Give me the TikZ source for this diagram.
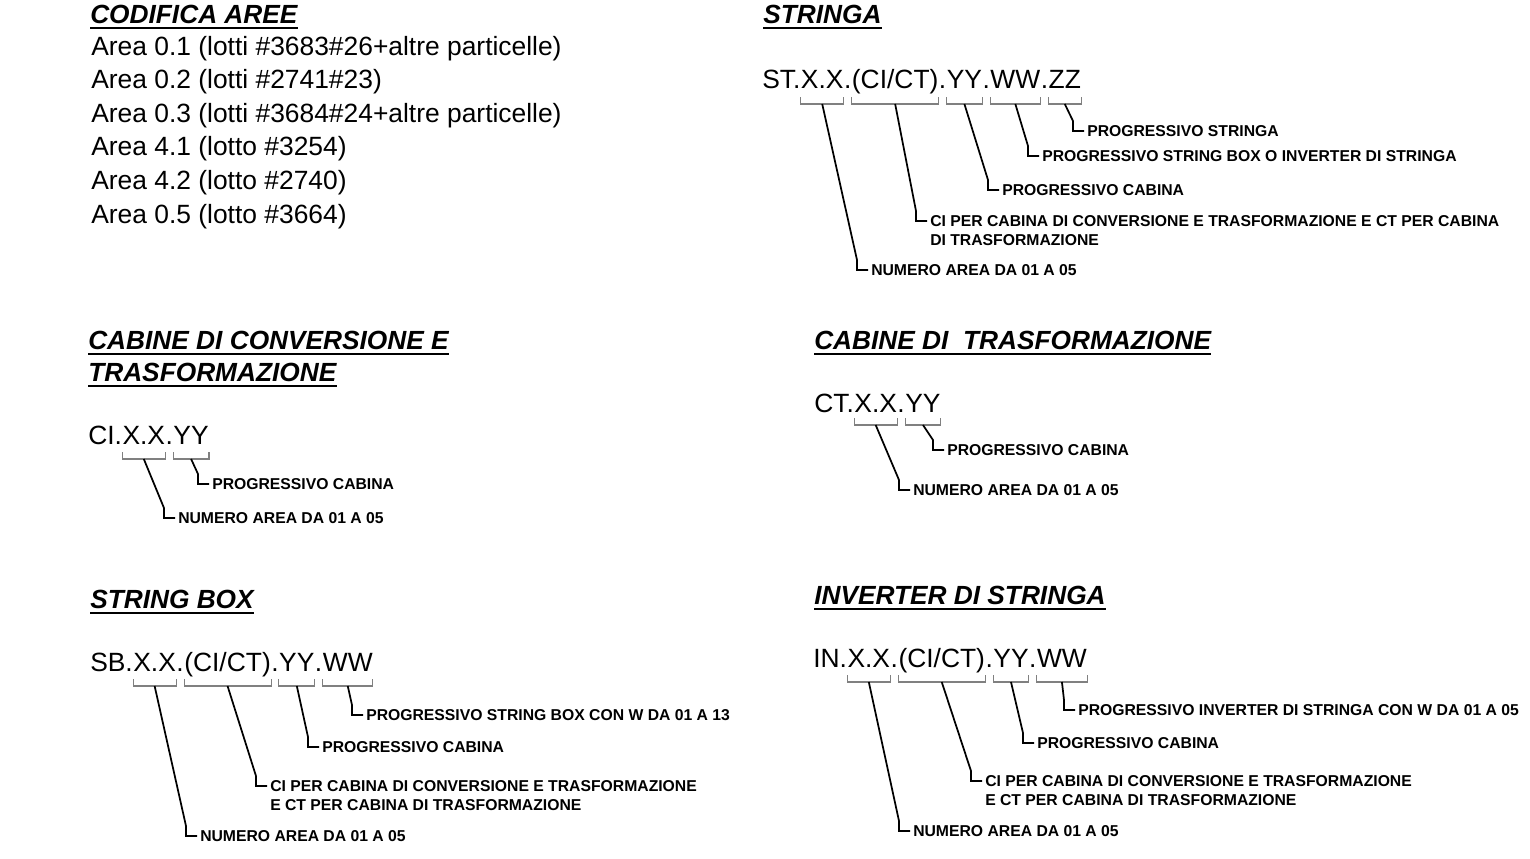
\documentclass[tikz,border=0pt]{standalone}
\usepackage{fontspec}
\setmainfont{Liberation Sans}
\usetikzlibrary{calc}
% bracket under a code segment: #1 node, #2 offset below baseline (px)
\newcommand\codebrk[2]{%
  \draw[brk] ($(#1.base west)+(0,#2-7)$) -- ($(#1.base west)+(0,#2)$) -- ($(#1.base east)+(0,#2)$) -- ($(#1.base east)+(0,#2-7)$);
  \coordinate (#1b) at ($(#1.base)+(0,#2)$);}
% leader from a coordinate to a label node
\newcommand\ldr[2]{%
  \draw[lead] (#1) -- ($(#2.west)+(-14,-10)$) -- ($(#2.west)+(-14,0)$) -- ($(#2.west)+(-3,0)$);}
% heading underline
\newcommand\hul[1]{%
  \draw[uline] ($(#1.base west)+(0,4.8)$) -- ($(#1.base east)+(0,4.8)$);}
\begin{document}
\begin{tikzpicture}[x=0.75pt,y=-0.75pt,
  code/.style={font=\fontsize{19.8}{24}\selectfont, inner sep=0pt, anchor=base west},
  head/.style={font=\fontsize{19.7}{24}\selectfont\bfseries\itshape, inner sep=0pt, anchor=base west},
  lbl/.style={font=\fontsize{11.8}{14}\selectfont\bfseries, inner sep=0pt, anchor=west},
  brk/.style={draw=black!50, line width=0.8pt},
  lead/.style={draw=black, line width=1.3pt, line join=miter},
  uline/.style={draw=black, line width=1.5pt}]
\fill[white] (0,0) rectangle (1530,858);
\useasboundingbox (0,0) rectangle (1530,858);

% ---------- CODIFICA AREE ----------
\node[head] (hA) at (90,23) {CODIFICA AREE};
\hul{hA}
\node[code] (a1) at (91,55.0) {Area 0.1 (lotti \#3683\#26+altre particelle)};
\node[code] (a2) at (91,88.6) {Area 0.2 (lotti \#2741\#23)};
\node[code] (a3) at (91,122.2) {Area 0.3 (lotti \#3684\#24+altre particelle)};
\node[code] (a4) at (91,155.8) {Area 4.1 (lotto \#3254)};
\node[code] (a5) at (91,189.4) {Area 4.2 (lotto \#2740)};
\node[code] (a6) at (91,223.0) {Area 0.5 (lotto \#3664)};

% ---------- STRINGA ----------
\node[head] (hST) at (763,23) {STRINGA};
\hul{hST}
\node[code] (st0) at (762,88) {ST.};
\node[code] (st1) at (st0.base east) {X.X};
\node[code] (std1) at (st1.base east) {.};
\node[code] (st2) at (std1.base east) {(CI/CT)};
\node[code] (std2) at (st2.base east) {.};
\node[code] (st3) at (std2.base east) {YY};
\node[code] (std3) at (st3.base east) {.};
\node[code] (st4) at (std3.base east) {WW};
\node[code] (std4) at (st4.base east) {.};
\node[code] (st5) at (std4.base east) {ZZ};
\codebrk{st1}{16}\codebrk{st2}{16}\codebrk{st3}{16}\codebrk{st4}{16}\codebrk{st5}{16}
\node[lbl] (stL5) at (1087,131) {PROGRESSIVO STRINGA};
\node[lbl] (stL4) at (1042,156) {PROGRESSIVO STRING BOX O INVERTER DI STRINGA};
\node[lbl] (stL3) at (1002,190) {PROGRESSIVO CABINA};
\node[lbl] (stL2) at (930,221) {CI PER CABINA DI CONVERSIONE E TRASFORMAZIONE E CT PER CABINA};
\node[lbl] (stL2b) at (930,240) {DI TRASFORMAZIONE};
\node[lbl] (stL1) at (871,270) {NUMERO AREA DA 01 A 05};
\ldr{st5b}{stL5}\ldr{st4b}{stL4}\ldr{st3b}{stL3}\ldr{st2b}{stL2}\ldr{st1b}{stL1}

% ---------- CABINE DI CONVERSIONE E TRASFORMAZIONE ----------
\node[head] (hCI) at (88,349) {CABINE DI CONVERSIONE E};
\node[head] (hCIb) at (88,381.5) {TRASFORMAZIONE};
\hul{hCI}\hul{hCIb}
\node[code] (ci0) at (88,444) {CI.};
\node[code] (ci1) at (ci0.base east) {X.X};
\node[code] (cid1) at (ci1.base east) {.};
\node[code] (ci2) at (cid1.base east) {YY};
\codebrk{ci1}{15}\codebrk{ci2}{15}
\node[lbl] (ciL2) at (212,484) {PROGRESSIVO CABINA};
\node[lbl] (ciL1) at (178,518) {NUMERO AREA DA 01 A 05};
\ldr{ci2b}{ciL2}\ldr{ci1b}{ciL1}

% ---------- CABINE DI TRASFORMAZIONE ----------
\node[head] (hCT) at (814,349) {CABINE DI\ \ TRASFORMAZIONE};
\hul{hCT}
\node[code] (ct0) at (814,412.5) {CT.};
\node[code] (ct1) at (ct0.base east) {X.X};
\node[code] (ctd1) at (ct1.base east) {.};
\node[code] (ct2) at (ctd1.base east) {YY};
\codebrk{ct1}{12.5}\codebrk{ct2}{12.5}
\node[lbl] (ctL2) at (947,450) {PROGRESSIVO CABINA};
\node[lbl] (ctL1) at (913,490) {NUMERO AREA DA 01 A 05};
\ldr{ct2b}{ctL2}\ldr{ct1b}{ctL1}

% ---------- STRING BOX ----------
\node[head] (hSB) at (90,608) {STRING BOX};
\hul{hSB}
\node[code] (sb0) at (90,671) {SB.};
\node[code] (sb1) at (sb0.base east) {X.X};
\node[code] (sbd1) at (sb1.base east) {.};
\node[code] (sb2) at (sbd1.base east) {(CI/CT)};
\node[code] (sbd2) at (sb2.base east) {.};
\node[code] (sb3) at (sbd2.base east) {YY};
\node[code] (sbd3) at (sb3.base east) {.};
\node[code] (sb4) at (sbd3.base east) {WW};
\codebrk{sb1}{15}\codebrk{sb2}{15}\codebrk{sb3}{15}\codebrk{sb4}{15}
\node[lbl] (sbL4) at (366,715) {PROGRESSIVO STRING BOX CON W DA 01 A 13};
\node[lbl] (sbL3) at (322,747) {PROGRESSIVO CABINA};
\node[lbl] (sbL2) at (270,786) {CI PER CABINA DI CONVERSIONE E TRASFORMAZIONE};
\node[lbl] (sbL2b) at (270,805) {E CT PER CABINA DI TRASFORMAZIONE};
\node[lbl] (sbL1) at (200,836) {NUMERO AREA DA 01 A 05};
\ldr{sb4b}{sbL4}\ldr{sb3b}{sbL3}\ldr{sb2b}{sbL2}\ldr{sb1b}{sbL1}

% ---------- INVERTER DI STRINGA ----------
\node[head] (hIV) at (814,604) {INVERTER DI STRINGA};
\hul{hIV}
\node[code] (iv0) at (813,667) {IN.};
\node[code] (iv1) at (iv0.base east) {X.X};
\node[code] (ivd1) at (iv1.base east) {.};
\node[code] (iv2) at (ivd1.base east) {(CI/CT)};
\node[code] (ivd2) at (iv2.base east) {.};
\node[code] (iv3) at (ivd2.base east) {YY};
\node[code] (ivd3) at (iv3.base east) {.};
\node[code] (iv4) at (ivd3.base east) {WW};
\codebrk{iv1}{15}\codebrk{iv2}{15}\codebrk{iv3}{15}\codebrk{iv4}{15}
\node[lbl] (ivL4) at (1078,710) {PROGRESSIVO INVERTER DI STRINGA CON W DA 01 A 05};
\node[lbl] (ivL3) at (1037,743) {PROGRESSIVO CABINA};
\node[lbl] (ivL2) at (985,781) {CI PER CABINA DI CONVERSIONE E TRASFORMAZIONE};
\node[lbl] (ivL2b) at (985,800) {E CT PER CABINA DI TRASFORMAZIONE};
\node[lbl] (ivL1) at (913,831) {NUMERO AREA DA 01 A 05};
\ldr{iv4b}{ivL4}\ldr{iv3b}{ivL3}\ldr{iv2b}{ivL2}\ldr{iv1b}{ivL1}
\end{tikzpicture}
\end{document}
